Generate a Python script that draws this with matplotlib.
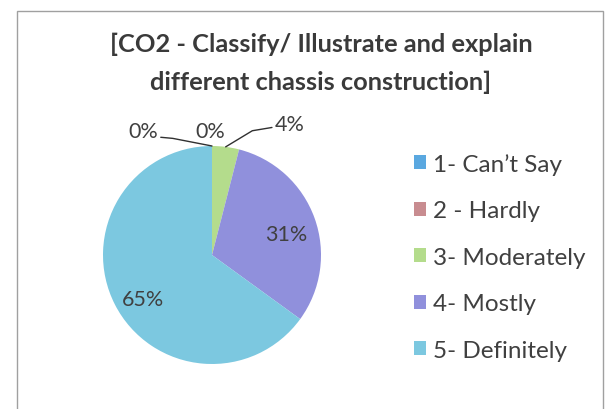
import matplotlib
matplotlib.use("Agg")
import matplotlib.pyplot as plt
from matplotlib.patches import Rectangle
import numpy as np

plt.rcParams['font.family'] = ['Lato', 'DejaVu Sans']

categories = ["1- Can\u2019t Say", "2 - Hardly", "3- Moderately", "4- Mostly", "5- Definitely"]
percent = [0, 0, 4, 31, 65]
colors = ["#5aa8e0", "#c88c90", "#b4dc8c", "#9090dc", "#7cc8e0"]
title = "[CO2 - Classify/ Illustrate and explain\ndifferent chassis construction]"

W, H = 614, 410
fig = plt.figure(figsize=(W / 100, H / 100), dpi=100)
fig.patch.set_facecolor("white")

# chart frame (scanned border)
fig.patches.append(Rectangle((17 / W, -0.05), (603 - 17) / W, 1.05 - 12 / H,
                             transform=fig.transFigure, fill=False,
                             edgecolor="#a0a0a0", linewidth=1))

# pie axes: centre (212, 256) px, radius 109 px
cx, cy, r = 212, 256, 109
lim = 1.3
side = 2 * lim * r
ax = fig.add_axes([(cx - side / 2) / W, (H - cy - side / 2) / H, side / W, side / H])
wedges, _ = ax.pie(percent, colors=colors, startangle=90, counterclock=False,
                   radius=1.0, wedgeprops=dict(linewidth=0))
ax.set_xlim(-lim, lim)
ax.set_ylim(-lim, lim)
ax.axis("off")

# label positions (data units of the pie axes)
label_pos = [(-0.63, 1.14), (-0.02, 1.14), (0.71, 1.20), (0.68, 0.19), (-0.63, -0.40)]
leader = [True, False, True, False, False]
txt_color = "#404040"
for w, v, (lx, ly), lead in zip(wedges, percent, label_pos, leader):
    ax.text(lx, ly, f"{v}%", ha="center", va="center", fontsize=15.5, color=txt_color)
    if lead:
        mid = np.deg2rad((w.theta1 + w.theta2) / 2)
        ex, ey = np.cos(mid), np.sin(mid)
        if lx < 0:
            pts = [(lx + 0.16, ly - 0.06), (lx + 0.27, ly - 0.07), (ex, ey)]
        else:
            pts = [(lx - 0.16, ly - 0.03), (lx - 0.34, ly - 0.06), (ex, ey)]
        xs, ys = zip(*pts)
        ax.plot(xs, ys, color="#303030", linewidth=1, solid_capstyle="round")

fig.text(321 / W, 1 - 63 / H, title, ha="center", va="center", fontsize=18.3,
         fontweight="bold", color="#3a3a3a", linespacing=1.75)

handles = [Rectangle((0, 0), 1, 1, facecolor=c, edgecolor="none") for c in colors]
fig.legend(handles, categories, loc="upper left", bbox_to_anchor=(414 / W, 1 - 154 / H),
           frameon=False, fontsize=17.5, handlelength=0.5, handleheight=0.5,
           handletextpad=0.3, labelspacing=1.05, labelcolor=txt_color,
           borderaxespad=0, borderpad=0)

fig.savefig("out.png", dpi=100)
